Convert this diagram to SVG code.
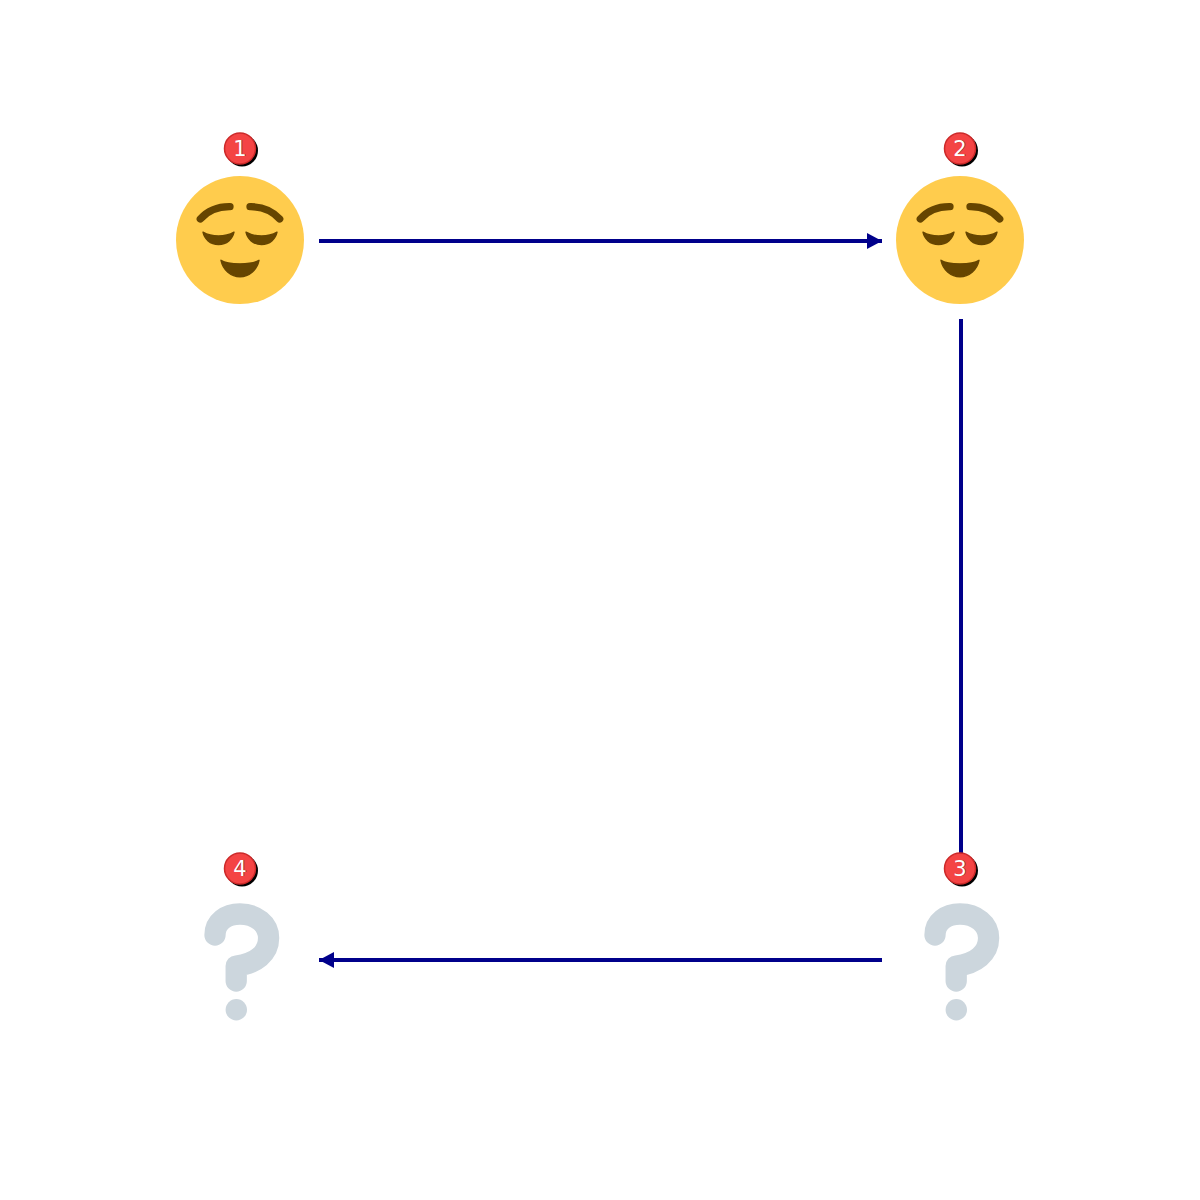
<svg xmlns="http://www.w3.org/2000/svg" width="1200" height="1200" viewBox="0 0 1200 1200">
<style>
.conn{stroke:#00008b;stroke-width:4;fill:none}
.badge-s{fill:#000}
.badge{fill:#f44444;stroke:#cc2a2a;stroke-width:1.5}
.num{font-family:"DejaVu Sans",sans-serif;font-size:21px;text-anchor:middle}
.shade{fill:#000;opacity:.45}
.lit{fill:#fff}
.face{fill:#ffcc4d}
.dark{fill:#664500;stroke:#664500;stroke-width:1.4;stroke-linejoin:round}
.brow{fill:none;stroke:#664500;stroke-width:7.3;stroke-linecap:round}
.q{fill:none;stroke:#ccd6dd;stroke-width:21.3;stroke-linecap:round;stroke-linejoin:round}
.qd{fill:#ccd6dd}
</style>
<defs>
<marker id="arr" markerUnits="userSpaceOnUse" markerWidth="16" markerHeight="18" refX="15" refY="8.5" orient="auto"><path d="M0 0.5L15 8.5L0 16.5z" fill="#00008b"/></marker>
<g id="smile">
<circle class="face" cx="0" cy="0" r="64"/>
<path class="brow" d="M-39.700-21C-33-28.500-24-33.500-10-33.300"/>
<path class="brow" d="M39.700-21C33-28.500 24-33.500 10-33.300"/>
<path class="dark" d="M-37-7.800C-28-2.700-15-2.700-6-7.800C-7.500-1-13 4.500-21.500 4.500C-30 4.500-35.500-1-37-7.800z"/>
<path class="dark" d="M37-7.800C28-2.700 15-2.700 6-7.800C7.500-1 13 4.500 21.500 4.500C30 4.500 35.500-1 37-7.800z"/>
<path class="dark" d="M-19 20.300C-12 25 12 25 19 20.300C17 30 9 36.800 0 36.800C-9 36.800-17 30-19 20.300z"/>
</g>
<g id="qmark">
<path class="q" d="M-25-25C-25-38-14-46 0-46C16-46 28.600-36 28.600-22C28.600-7 16 4-3.800 6L-3.800 21"/>
<circle class="qd" cx="-3.700" cy="49.700" r="10.700"/>
</g>
</defs>
<g id="connectors">
<line class="conn" x1="319" y1="241" x2="882" y2="241" marker-end="url(#arr)"/>
<line class="conn" x1="961" y1="319" x2="961" y2="866"/>
<line class="conn" x1="882" y1="960" x2="319" y2="960" marker-end="url(#arr)"/>
</g>
<g id="node1"><use href="#smile" x="240" y="240"/>
<circle class="badge-s" cx="242" cy="150.500" r="16"/><circle class="badge" cx="240" cy="148.500" r="15.500"/>
<text class="num shade" x="240.700" y="156.200">1</text><text class="num lit" x="240" y="155.500">1</text></g>
<g id="node2"><use href="#smile" x="960" y="240"/>
<circle class="badge-s" cx="962" cy="150.500" r="16"/><circle class="badge" cx="960" cy="148.500" r="15.500"/>
<text class="num shade" x="960.700" y="156.200">2</text><text class="num lit" x="960" y="155.500">2</text></g>
<g id="node3"><use href="#qmark" x="960" y="960"/>
<circle class="badge-s" cx="962" cy="870.500" r="16"/><circle class="badge" cx="960" cy="868.500" r="15.500"/>
<text class="num shade" x="960.700" y="876.200">3</text><text class="num lit" x="960" y="875.500">3</text></g>
<g id="node4"><use href="#qmark" x="240" y="960"/>
<circle class="badge-s" cx="242" cy="870.500" r="16"/><circle class="badge" cx="240" cy="868.500" r="15.500"/>
<text class="num shade" x="240.700" y="876.200">4</text><text class="num lit" x="240" y="875.500">4</text></g>
</svg>
